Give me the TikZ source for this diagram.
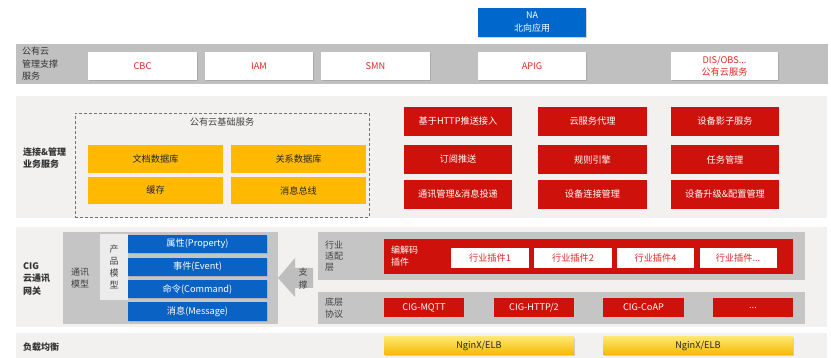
\documentclass[tikz,border=0pt]{standalone}
\usepackage{fontspec}
\setmainfont{Noto Sans CJK SC}
\usetikzlibrary{positioning,shadows}
\definecolor{hwred}{RGB}{206,17,10}
\definecolor{hwredtxt}{RGB}{225,40,35}
\definecolor{hwblue}{RGB}{10,98,196}
\definecolor{nablue}{RGB}{0,104,204}
\definecolor{hwyellow}{RGB}{255,186,0}
\definecolor{bandgray}{RGB}{192,192,192}
\definecolor{bandlight}{RGB}{242,241,240}
\definecolor{midgray}{RGB}{197,197,197}
\definecolor{palegray}{RGB}{236,236,236}
\definecolor{arrgray}{RGB}{190,190,190}
\definecolor{elbtop}{RGB}{255,230,110}
\definecolor{elbbot}{RGB}{244,186,0}
\newcommand{\boxfont}{\fontsize{9.2}{12}\selectfont}
\newcommand{\lblfont}{\fontsize{9}{12.5}\selectfont}
\tikzset{
  sz/.style 2 args={minimum width=#1, minimum height=#2},
  band/.style  ={rectangle, anchor=north west, inner sep=0pt, outer sep=0pt},
  lbl/.style   ={anchor=west, align=left, inner sep=0pt, font=\lblfont\bfseries, text=black!80},
  ilbl/.style  ={align=center, inner sep=0pt, font=\lblfont, text=black!75},
  svc/.style   ={band, fill=white, text=hwredtxt, align=center, font=\boxfont,
                 drop shadow={shadow xshift=0.8pt, shadow yshift=-1.2pt, opacity=0.35}},
  nabox/.style ={band, fill=nablue, text=white, align=center, font=\fontsize{9}{13}\selectfont,
                 drop shadow={shadow xshift=0.8pt, shadow yshift=-1.2pt, opacity=0.35}},
  group/.style ={band, draw=black!55, densely dashed, line width=0.5pt},
  ybox/.style  ={band, fill=hwyellow, text=black!85, font=\boxfont},
  rbox/.style  ={band, fill=hwred, text=white, font=\boxfont},
  bbox/.style  ={band, fill=hwblue, text=white, font=\boxfont,
                 drop shadow={shadow xshift=0.6pt, shadow yshift=-1pt, opacity=0.3}},
  plug/.style  ={band, fill=white, text=hwredtxt, font=\boxfont},
  elb/.style   ={band, top color=elbtop, bottom color=elbbot, text=black!85, font=\boxfont,
                 drop shadow={shadow xshift=0.6pt, shadow yshift=-1pt, opacity=0.3}},
}

\begin{document}
\begin{tikzpicture}[x=1pt, y=-1pt, node distance=8pt]
\useasboundingbox (0,0) rectangle (831,358);

% layer backgrounds
\node[band, fill=bandgray,  sz={812pt}{40pt}]  (mgmt) at (16,44) {};
\node[band, fill=bandlight, sz={811pt}{122pt}] (biz)  at (16,96) {};
\node[band, fill=bandlight, sz={811pt}{100pt}] (cig)  at (16,227) {};
\node[band, fill=bandlight, sz={811pt}{26pt}]  (lb)   at (16,333) {};

\node[lbl, font=\lblfont] (mgmtl) at (22,64)  {公有云\\管理支撑\\服务};
\node[lbl] (bizl) at (23,158) {连接\&管理\\业务服务};
\node[lbl] (cigl) at (23,279) {CIG\\云通讯\\网关};
\node[lbl] (lbl)  at (23,347) {负载均衡};

% northbound + public cloud services
\node[nabox, sz={108pt}{29pt}] (na) at (478,8) {NA\\北向应用};
\node[svc, sz={109pt}{28pt}] (cbc) at (88,52) {CBC};
\node[svc, sz={108pt}{28pt}, right=of cbc] (iam) {IAM};
\node[svc, sz={109pt}{28pt}, right=of iam] (smn) {SMN};
\node[svc, sz={108pt}{28pt}] (apig) at (478,52) {APIG};
\node[svc, sz={107pt}{28pt}] (dis)  at (671,52) {DIS/OBS...\\公有云服务};

% basic services
\node[group, sz={294pt}{104pt}] (base) at (75,113) {};
\node[ilbl, font=\boxfont] (basel) at (222,122) {公有云基础服务};
\node[ybox, sz={135pt}{28pt}] (doc) at (88,145) {文档数据库};
\node[ybox, sz={135pt}{28pt}, right=of doc] (rdb) {关系数据库};
\node[ybox, sz={135pt}{27pt}, below=4pt of doc] (cache) {缓存};
\node[ybox, sz={135pt}{27pt}, right=of cache] (mq) {消息总线};

% business services
\node[rbox, sz={108pt}{29pt}] (push) at (404,107) {基于HTTP推送接入};
\node[rbox, sz={109pt}{29pt}, right=26pt of push] (proxy) {云服务代理};
\node[rbox, sz={108pt}{29pt}, right=24pt of proxy] (shadow) {设备影子服务};
\node[rbox, sz={108pt}{29pt}, below=9pt of push] (sub) {订阅推送};
\node[rbox, sz={109pt}{29pt}, right=26pt of sub] (rule) {规则引擎};
\node[rbox, sz={108pt}{29pt}, right=24pt of rule] (task) {任务管理};
\node[rbox, sz={108pt}{29pt}, below=6pt of sub] (comm) {通讯管理\&消息投递};
\node[rbox, sz={109pt}{29pt}, right=26pt of comm] (conn) {设备连接管理};
\node[rbox, sz={108pt}{29pt}, right=24pt of conn] (ota) {设备升级\&配置管理};

% communication model
\node[band, fill=midgray, sz={215pt}{92pt}] (model) at (63,232) {};
\node[ilbl] (modell) at (80,278) {通讯\\模型};
\node[band, fill=palegray, sz={28pt}{66pt}] (prod) at (100,234) {};
\node[ilbl, font=\fontsize{9}{12}\selectfont] (prodl) at (114,267) {产\\品\\模\\型};
\node[bbox, sz={139pt}{18pt}] (prop) at (128,235) {属性(Property)};
\node[bbox, sz={139pt}{18pt}, below=5pt of prop] (evt) {事件(Event)};
\node[bbox, sz={139pt}{18pt}, below=4pt of evt] (cmd) {命令(Command)};
\node[bbox, sz={139pt}{19pt}, below=4pt of cmd] (msg) {消息(Message)};

\fill[arrgray] (313,268) -- (295,268) -- (295,258) -- (278,278)
  -- (295,297) -- (295,288) -- (313,288) -- cycle;
\node[ilbl, font=\fontsize{9}{13}\selectfont] (sup) at (303,279) {支\\撑};

% industry adaptation
\node[band, fill=midgray, sz={487pt}{48pt}] (adapt) at (318,232) {};
\node[ilbl, anchor=west, align=left, font=\fontsize{9}{11}\selectfont] (adaptl) at (325,256) {行业\\适配\\层};
\node[band, fill=hwred, sz={409pt}{35pt}] (codec) at (384,239) {};
\node[ilbl, anchor=west, align=left, text=white] (codecl) at (391,256) {编解码\\插件};
\node[plug, sz={78pt}{20pt}] (p1) at (451,248) {行业插件1};
\node[plug, sz={78pt}{20pt}, right=5pt of p1] (p2) {行业插件2};
\node[plug, sz={77pt}{20pt}, right=5pt of p2] (p4) {行业插件4};
\node[plug, sz={77pt}{20pt}, right=5.5pt of p4] (pn) {行业插件...};

% protocols
\node[band, fill=midgray, sz={487pt}{32pt}] (proto) at (318,292) {};
\node[ilbl, anchor=west, align=left] (protol) at (325,308) {底层\\协议};
\node[rbox, sz={80pt}{19pt}] (mqtt) at (384,298) {CIG-MQTT};
\node[rbox, sz={80pt}{19pt}, right=30pt of mqtt] (http) {CIG-HTTP/2};
\node[rbox, sz={81pt}{19pt}, right=29pt of http] (coap) {CIG-CoAP};
\node[rbox, sz={80pt}{19pt}, right=29pt of coap] (more) {...};

% load balancing
\node[elb, sz={190pt}{18pt}] (elb1) at (384,337) {NginX/ELB};
\node[elb, sz={190pt}{18pt}] (elb2) at (603,337) {NginX/ELB};

\end{tikzpicture}
\end{document}
